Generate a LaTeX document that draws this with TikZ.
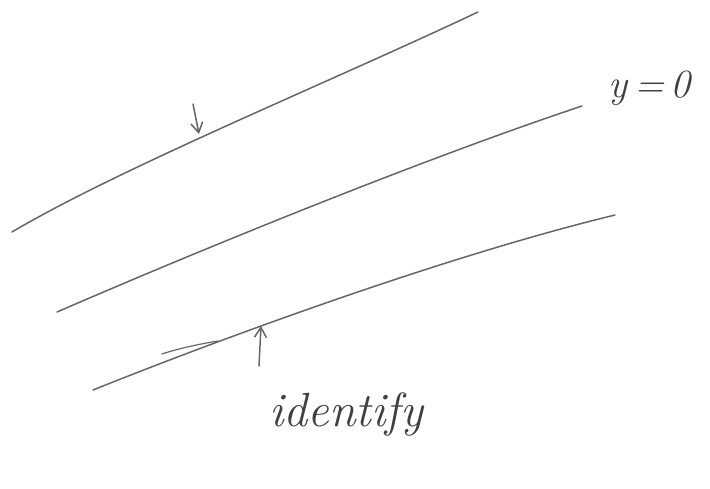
\documentclass[tikz,border=0pt]{standalone}
\usetikzlibrary{arrows.meta}
\begin{document}
\begin{tikzpicture}[x=1pt,y=-1pt,
  pencil/.style={draw=black!60,line width=1.5pt,line cap=round},
  hand/.style={text=black!75,font=\itshape},
  arrowline/.style={pencil,-{Straight Barb[length=10pt,width=12pt]}}]
\useasboundingbox (0,0) rectangle (710,488);
% lines
\coordinate (t1) at (12,232); \coordinate (t2) at (478,12);
\coordinate (m1) at (57,312); \coordinate (m2) at (582,106);
\coordinate (b1) at (93,390); \coordinate (b2) at (615,215);
\draw[pencil] (t1) .. controls (120,168) and (330,82) .. (t2);
\draw[pencil] (m1) .. controls (200,250) and (420,160) .. (m2);
\draw[pencil] (b1) .. controls (230,335) and (450,255) .. (b2);
% extra stroke
\coordinate (s1) at (162,354); \coordinate (s2) at (218,341);
\draw[pencil,line width=1.2pt] (s1) .. controls (180,348) and (200,344) .. (s2);
% arrows
\coordinate (da) at (193,104); \coordinate (dt) at (199,134);
\draw[arrowline] (da) -- (dt);
\coordinate (ua) at (259,366); \coordinate (ut) at (261,326);
\draw[arrowline] (ua) -- (ut);
% labels
\node[hand,font=\itshape\fontsize{40}{40}\selectfont,anchor=west] (y0) at (605,88) {y\,=\,0};
\node[hand,font=\itshape\fontsize{48}{48}\selectfont,anchor=west] (id) at (266,414) {identify};
\end{tikzpicture}
\end{document}
